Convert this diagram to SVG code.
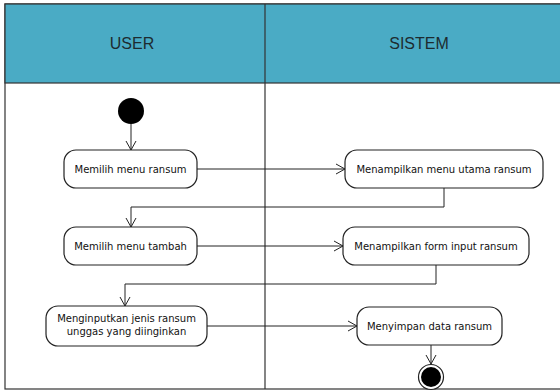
<svg xmlns="http://www.w3.org/2000/svg" width="560" height="391" viewBox="0 0 560 391">
<defs>
<marker id="arr" markerWidth="12" markerHeight="12" refX="10" refY="6" orient="auto" markerUnits="userSpaceOnUse">
<path d="M1,1 L10,6 L1,11" fill="none" stroke="#222" stroke-width="1"/>
</marker>
<style>
.lane{fill:#fff;stroke:#333;stroke-width:1.2}
.hdr{fill:#4aabc5;stroke:#333;stroke-width:1.2}
.ht{font-family:"Liberation Sans",Arial,sans-serif;font-size:16px;fill:#1d2b30;text-anchor:middle}
.box{fill:#fff;stroke:#222;stroke-width:1.2}
.t{font-family:"DejaVu Sans",Verdana,sans-serif;font-size:10px;fill:#111;text-anchor:middle}
.c{fill:none;stroke:#222;stroke-width:1;marker-end:url(#arr)}
</style>
</defs>
<g id="lanes">
<rect class="lane" x="5" y="4" width="600" height="385"/>
<rect class="hdr" x="5" y="4" width="600" height="79"/>
<line x1="265" y1="4" x2="265" y2="389" stroke="#333" stroke-width="1.2"/>
<text class="ht" x="132" y="49">USER</text>
<text class="ht" x="419" y="49">SISTEM</text>
</g>
<g id="connectors">
<line class="c" x1="131" y1="124" x2="131" y2="150"/>
<line class="c" x1="197" y1="169" x2="345" y2="169"/>
<polyline class="c" points="444,188 444,207 131,207 131,227"/>
<line class="c" x1="197" y1="246" x2="343" y2="246"/>
<polyline class="c" points="436,265 436,284 125,284 125,306"/>
<line class="c" x1="207" y1="326" x2="357" y2="326"/>
<line class="c" x1="431" y1="345" x2="431" y2="364"/>
</g>
<g id="start"><circle cx="131" cy="111" r="13" fill="#000"/></g>
<g id="n1"><rect class="box" x="64" y="150" width="133" height="38" rx="12"/><text class="t" x="130.5" y="173">Memilih menu ransum</text></g>
<g id="n2"><rect class="box" x="345" y="150" width="198" height="38" rx="12"/><text class="t" x="444" y="173">Menampilkan menu utama ransum</text></g>
<g id="n3"><rect class="box" x="64" y="227" width="133" height="38" rx="12"/><text class="t" x="130.5" y="250">Memilih menu tambah</text></g>
<g id="n4"><rect class="box" x="343" y="227" width="186" height="38" rx="12"/><text class="t" x="436" y="250">Menampilkan form input ransum</text></g>
<g id="n5"><rect class="box" x="46" y="306" width="161" height="40" rx="12"/><text class="t" x="126.5" y="322">Menginputkan jenis ransum</text><text class="t" x="126.5" y="335">unggas yang diinginkan</text></g>
<g id="n6"><rect class="box" x="357" y="307" width="145" height="38" rx="12"/><text class="t" x="429.5" y="330">Menyimpan data ransum</text></g>
<g id="end"><circle cx="431" cy="377" r="12.5" fill="#fff" stroke="#222" stroke-width="1.2"/><circle cx="431" cy="377" r="10" fill="#000"/></g>
</svg>
